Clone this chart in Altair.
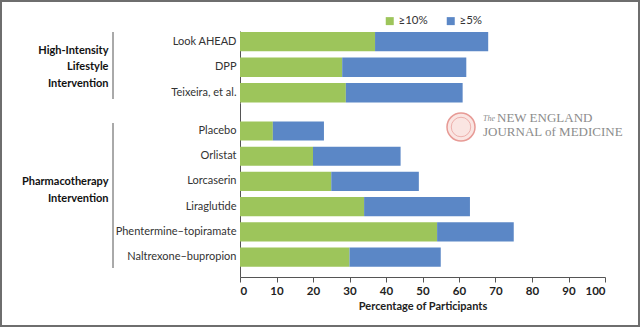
import altair as alt
import pandas as pd

# ---- data ----
top_names = ["Look AHEAD", "DPP", "Teixeira, et al."]
top_10 = [37, 28, 29]
top_5 = [68, 62, 61]
bot_names = ["Placebo", "Orlistat", "Lorcaserin", "Liraglutide",
             "Phentermine–topiramate", "Naltrexone–bupropion"]
bot_10 = [9, 20, 25, 34, 54, 30]
bot_5 = [23, 44, 49, 63, 75, 55]
series = ["≥10%", "≥5%"]
colors = ["#9dc55b", "#5b87c6"]
x_ticks = list(range(0, 101, 10))
top_title = ["High-Intensity", "Lifestyle", "Intervention"]
bot_title = ["Pharmacotherapy", "Intervention"]
x_title = "Percentage of Participants"
brand_the = "The"
brand_1 = "NEW ENGLAND"
brand_2 = "JOURNAL of MEDICINE"


def long(names, v10, v5):
    rows = []
    for n, a, b in zip(names, v10, v5):
        rows.append({"study": n, "series": series[0], "start": 0, "end": a})
        rows.append({"study": n, "series": series[1], "start": a, "end": b})
    return pd.DataFrame(rows)


FONT = "Lato"
W = 365
H_TOP = 72
H_BOT = 174

legend = alt.Legend(title=None, orient="none", direction="horizontal",
                    legendX=144, legendY=-16, symbolType="square",
                    symbolSize=64, symbolStrokeWidth=0, labelFontSize=11.5,
                    labelFont=FONT, labelColor="#333", columnPadding=17,
                    labelOffset=3)
color = alt.Color("series:N", scale=alt.Scale(domain=series, range=colors),
                  legend=legend)


def panel(df, names, height, pad_outer, align, title, show_x, rule_y):
    if show_x:
        xaxis = alt.Axis(values=x_ticks, grid=False, title=x_title,
                         domainColor="#555", tickColor="#555", tickSize=5,
                         labelFont=FONT, labelFontSize=11.5,
                         labelFontWeight="bold", labelColor="#222",
                         labelPadding=3, titleFont=FONT, titleFontSize=11,
                         titleFontWeight="bold", titleColor="#222",
                         titlePadding=4)
    else:
        xaxis = alt.Axis(domain=False, ticks=False, labels=False, grid=False,
                         title=None)
    n = len(title)
    bars = alt.Chart(df).mark_bar().encode(
        x=alt.X("start:Q", scale=alt.Scale(domain=[0, 100], nice=False),
                axis=xaxis),
        x2="end:Q",
        y=alt.Y("study:N", sort=names,
                scale=alt.Scale(paddingInner=0.24, paddingOuter=pad_outer,
                                align=align),
                axis=alt.Axis(title=title, titleAngle=0, titleAlign="right",
                              titleBaseline="top", titleX=-132,
                              titleY=height / 2 - (n * 16.5) / 2 + 2,
                              titleLineHeight=16.5, titleFont=FONT,
                              titleFontSize=11, titleFontWeight="bold",
                              titleColor="#111", ticks=False,
                              domainColor="#555", labelFont=FONT,
                              labelFontSize=11, labelColor="#333",
                              labelPadding=4, labelLimit=300)),
        color=color,
    )
    rule = alt.Chart(pd.DataFrame({"k": [0]})).mark_rule(
        color="#555", strokeWidth=1).encode(
        x=alt.value(-127), y=alt.value(rule_y[0]), y2=alt.value(rule_y[1]))
    return bars, rule


top_bars, top_rule = panel(long(top_names, top_10, top_5), top_names, H_TOP,
                           0.031, 0.62, top_title, False, (1, 68))
bot_bars, bot_rule = panel(long(bot_names, bot_10, bot_5), bot_names, H_BOT,
                           0.571, 0.64, bot_title, True, (20, 165))

one = pd.DataFrame({"k": [0]})
# outer frame of the figure
frame = alt.Chart(one).mark_rect(
    fill="transparent", stroke="#6e6e6e", strokeWidth=2).encode(
    x=alt.value(-239), x2=alt.value(399), y=alt.value(-30),
    y2=alt.value(295))

logo = alt.Chart(one).mark_point(
    shape="circle", size=784, stroke="#e79a95", strokeWidth=1.5,
    fill="#f6d3cf", fillOpacity=0.6).encode(
    x=alt.value(221), y=alt.value(24))
logo_in = alt.Chart(one).mark_point(
    shape="circle", size=380, stroke="#e79a95", strokeWidth=1,
    fill=None).encode(x=alt.value(221), y=alt.value(24))
t_the = alt.Chart(one).mark_text(
    align="left", baseline="middle", font="Liberation Serif", fontSize=8,
    fontStyle="italic", color="#8c8c8c").encode(
    x=alt.value(243), y=alt.value(16), text=alt.value(brand_the))
t_1 = alt.Chart(one).mark_text(
    align="left", baseline="middle", font="Liberation Serif", fontSize=13,
    color="#8c8c8c").encode(
    x=alt.value(257), y=alt.value(15), text=alt.value(brand_1))
t_2 = alt.Chart(one).mark_text(
    align="left", baseline="middle", font="Liberation Serif", fontSize=13,
    color="#8c8c8c").encode(
    x=alt.value(243), y=alt.value(29), text=alt.value(brand_2))

top = alt.layer(frame, top_bars, top_rule).properties(width=W, height=H_TOP)
bot = alt.layer(bot_bars, bot_rule, logo, logo_in, t_the, t_1, t_2
                ).properties(width=W, height=H_BOT)

chart = alt.vconcat(top, bot, spacing=0, bounds="flush").properties(
    padding=0,
    background="white",
).configure_view(stroke=None)

chart.save("out.html", embed_options={"renderer": "svg", "actions": False})
